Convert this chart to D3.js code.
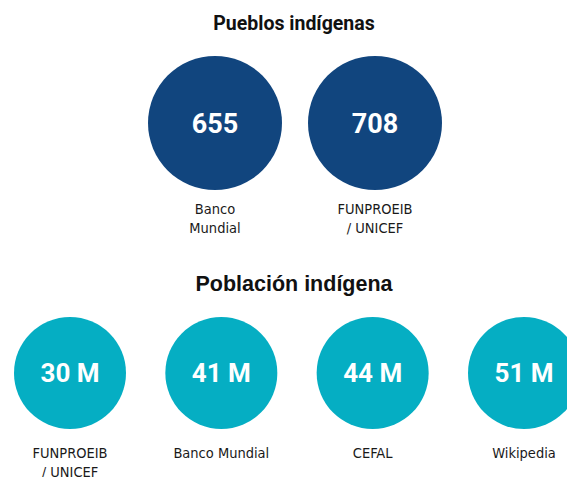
<html>
<head>
    <meta charset="utf-8">
    <script src="https://d3js.org/d3.v7.min.js"></script>
    <style>
        body { margin: 0; background: #fff; }
        .title { font-weight: bold; fill: #111; }
        .value { font-family: Roboto, "Liberation Sans", sans-serif; font-weight: bold; fill: #fff; }
        .label { font-family: "DejaVu Sans Condensed", "Liberation Sans", sans-serif; font-size: 14.5px; fill: #1a1a1a; }
    </style>
</head>
<body>
    <script>
        // Pueblos indígenas
        var pueblosSources = ["Banco\nMundial", "FUNPROEIB\n/ UNICEF"];
        var pueblosValues = [655, 708];
        // Población indígena (millones)
        var poblacionSources = ["FUNPROEIB\n/ UNICEF", "Banco Mundial", "CEFAL", "Wikipedia"];
        var poblacionValues = [30, 41, 44, 51];

        var width = 567, height = 477;
        var svg = d3.select("body").append("svg")
            .attr("width", width)
            .attr("height", height);

        function drawRow(opts) {
            var x = d3.scalePoint()
                .domain(opts.sources)
                .range(opts.range);
            var data = opts.sources.map(function (s, i) { return { source: s, value: opts.values[i] }; });

            svg.append("text")
                .attr("class", "title")
                .attr("x", opts.titleX)
                .attr("y", opts.titleY)
                .attr("text-anchor", "middle")
                .style("font-family", opts.titleFont)
                .style("font-size", opts.titleSize + "px")
                .text(opts.title);

            var g = svg.selectAll(null)
                .data(data)
                .enter().append("g")
                .attr("transform", function (d) { return "translate(" + x(d.source) + "," + opts.cy + ")"; });

            g.append("circle")
                .attr("r", opts.r)
                .attr("fill", opts.color);

            g.append("text")
                .attr("class", "value")
                .attr("text-anchor", "middle")
                .attr("dy", opts.valueDy)
                .style("font-size", opts.valueSize + "px")
                .text(function (d) { return opts.format(d.value); });

            g.append("text")
                .attr("class", "label")
                .attr("text-anchor", "middle")
                .attr("y", opts.r + opts.labelGap)
                .selectAll("tspan")
                .data(function (d) { return d.source.split("\n"); })
                .enter().append("tspan")
                .attr("x", 0)
                .attr("dy", function (d, i) { return i ? 19 : 0; })
                .text(function (d) { return d; });
        }

        drawRow({
            title: "Pueblos indígenas", titleX: 294, titleY: 30,
            titleFont: "Roboto, 'Liberation Sans', sans-serif", titleSize: 19.5,
            sources: pueblosSources, values: pueblosValues,
            range: [215, 375], cy: 123, r: 67, color: "#11457e",
            valueSize: 27, valueDy: 10, labelGap: 24,
            format: function (v) { return v; }
        });

        drawRow({
            title: "Población indígena", titleX: 294, titleY: 291,
            titleFont: "'Liberation Sans', Arial, sans-serif", titleSize: 21.5,
            sources: poblacionSources, values: poblacionValues,
            range: [70, 524], cy: 373, r: 56, color: "#05aec3",
            valueSize: 26, valueDy: 9, labelGap: 29,
            format: function (v) { return v + " M"; }
        });
    </script>
</body>
</html>
